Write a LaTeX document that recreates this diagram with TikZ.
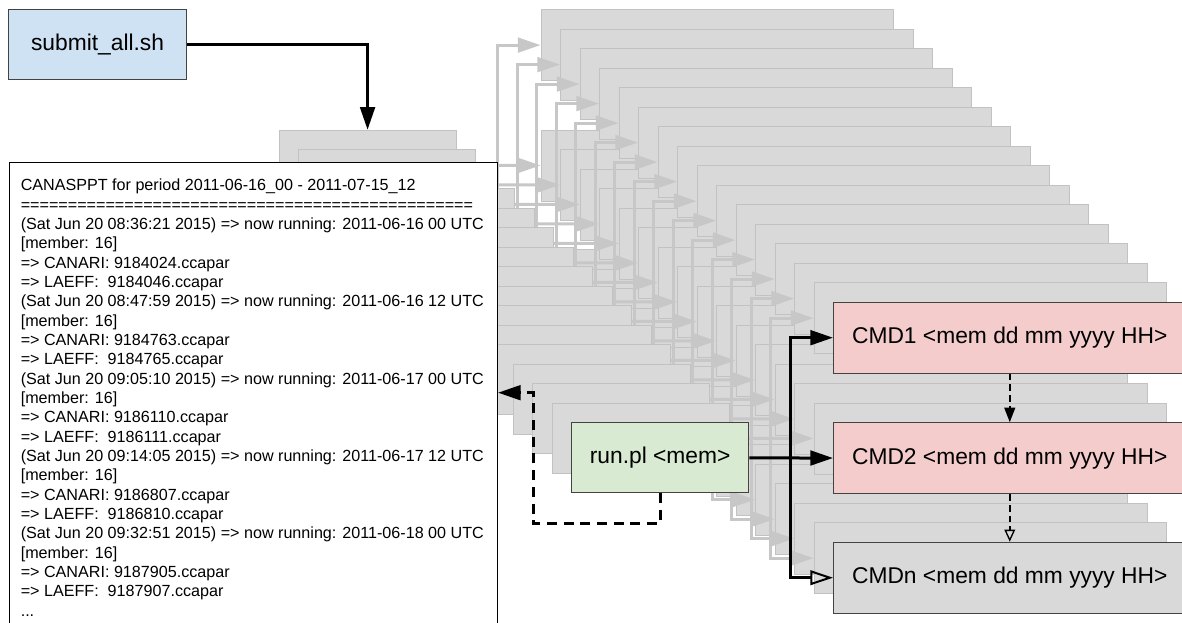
\documentclass[tikz,border=0pt]{standalone}
\usepackage{fontspec}
\setmainfont{Liberation Sans}
\usetikzlibrary{arrows.meta,positioning}

\definecolor{submitblue}{RGB}{207,226,243}
\definecolor{rungreen}{RGB}{217,234,211}
\definecolor{cmdpink}{RGB}{244,204,204}
\definecolor{cmdgray}{RGB}{217,217,217}
\definecolor{ghostline}{RGB}{194,194,194}
\definecolor{ghostarrow}{RGB}{199,199,199}
\definecolor{edge}{RGB}{67,67,67}

\begin{document}
\begin{tikzpicture}[x=0.75pt,y=0.75pt,yscale=-1,xscale=1,
  bigtxt/.style={font=\fontsize{17.1}{20}\selectfont},
  blk/.style={draw=edge, line width=0.75pt, inner sep=0pt, anchor=north west, bigtxt},
  cmdsize/.style={minimum width=264.4pt, minimum height=53.25pt},
  runsize/.style={minimum width=133pt, minimum height=52.5pt},
  ghost/.style={draw=ghostline, fill=cmdgray, line width=0.6pt, inner sep=0pt, anchor=north west},
  arr/.style={line width=2.25pt, -{Triangle[length=17pt,width=11pt]}},
  oarr/.style={line width=2.25pt, -{Triangle[open,length=17pt,width=11pt,line width=1.5pt]}},
  garr/.style={line width=2.25pt, draw=ghostarrow, -{Triangle[length=17pt,width=11pt,fill=ghostarrow]}},
  darr/.style={arr, dash pattern=on 7.5pt off 5pt},
  dsmall/.style={line width=1.6pt, dash pattern=on 5pt off 3pt, -{Triangle[length=11pt,width=8pt]}},
  dsmallo/.style={line width=1.6pt, dash pattern=on 5pt off 3pt, -{Triangle[open,length=9pt,width=8pt,line width=1pt]}},
  logtxt/.style={align=left, inner sep=0pt, font=\fontsize{12.1}{14.5}\selectfont}
]
\useasboundingbox (0,0) rectangle (1182,623);
\clip (0,0) rectangle (1182,623);

%Shape: stacked copies, back to front
\foreach \k [evaluate=\k as \off using 19.5*\k] in {15,14,...,1}{
  \node[ghost, cmdsize] (c1-\k) at (833-\off,301.7-\off) {};
  \node[ghost, cmdsize] (c2-\k) at (833-\off,422.3-\off) {};
  \node[ghost, cmdsize] (cn-\k) at (833-\off,541.7-\off) {};
  \node[ghost, runsize] (run-\k) at (571-\off,422.3-\off) {};
  \path (run-\k.east) ++(41,0) coordinate (f-\k);
  \draw[garr] (run-\k) -- (c2-\k);
  \draw[garr] (f-\k) |- (c1-\k);
  \draw[garr] (f-\k) |- (cn-\k);
}

%Shape: Rectangle (log)
\node[draw=black, line width=0.75pt, fill=white, inner sep=0pt, anchor=north west,
  minimum width=365.8pt, minimum height=360pt] (log) at (9.3,161.7) {};
% Text Node
\node[logtxt, below right=12.9pt and 8.4pt of log.north west] (logtext) {%
CANASPPT for period 2011-06-16\_00 - 2011-07-15\_12\\
================================================\\
(Sat Jun 20 08:36:21 2015) => now running: 2011-06-16 00 UTC\\
{[member: 16]}\\
=> CANARI: 9184024.ccapar\\
=> LAEFF:\ \ 9184046.ccapar\\
(Sat Jun 20 08:47:59 2015) => now running: 2011-06-16 12 UTC\\
{[member: 16]}\\
=> CANARI: 9184763.ccapar\\
=> LAEFF:\ \ 9184765.ccapar\\
(Sat Jun 20 09:05:10 2015) => now running: 2011-06-17 00 UTC\\
{[member: 16]}\\
=> CANARI: 9186110.ccapar\\
=> LAEFF:\ \ 9186111.ccapar\\
(Sat Jun 20 09:14:05 2015) => now running: 2011-06-17 12 UTC\\
{[member: 16]}\\
=> CANARI: 9186807.ccapar\\
=> LAEFF:\ \ 9186810.ccapar\\
(Sat Jun 20 09:32:51 2015) => now running: 2011-06-18 00 UTC\\
{[member: 16]}\\
=> CANARI: 9187905.ccapar\\
=> LAEFF:\ \ 9187907.ccapar\\
...};

%Shape: Rectangle (front)
\node[blk, runsize, fill=submitblue] (submit) at (8.4,9.5) {submit\_all.sh};
\node[blk, runsize, fill=rungreen] (run) at (571,422.3) {run.pl <mem>};
\node[blk, cmdsize, fill=cmdpink] (cmd1) at (833,301.7) {CMD1 <mem dd mm yyyy HH>};
\node[blk, cmdsize, fill=cmdpink] (cmd2) at (833,422.3) {CMD2 <mem dd mm yyyy HH>};
\node[blk, cmdsize, fill=cmdgray] (cmdn) at (833,541.7) {CMDn <mem dd mm yyyy HH>};

%Straight Lines
\draw[arr] (submit.east) -| (run-15.north);
\path (run.east) ++(41,0) coordinate (fork);
\draw[arr] (run) -- (cmd2);
\draw[arr] (fork) |- (cmd1);
\draw[oarr] (fork) |- (cmdn);
\draw[dsmall] (cmd1) -- (cmd2);
\draw[dsmallo] (cmd2) -- (cmdn);

%Straight Lines (back to log)
\coordinate (dip) at (533.3,523.3);
\path (log.north east) ++(0,231) coordinate (ret);
\draw[darr] (run.south) |- (dip) |- (ret);

\end{tikzpicture}
\end{document}
